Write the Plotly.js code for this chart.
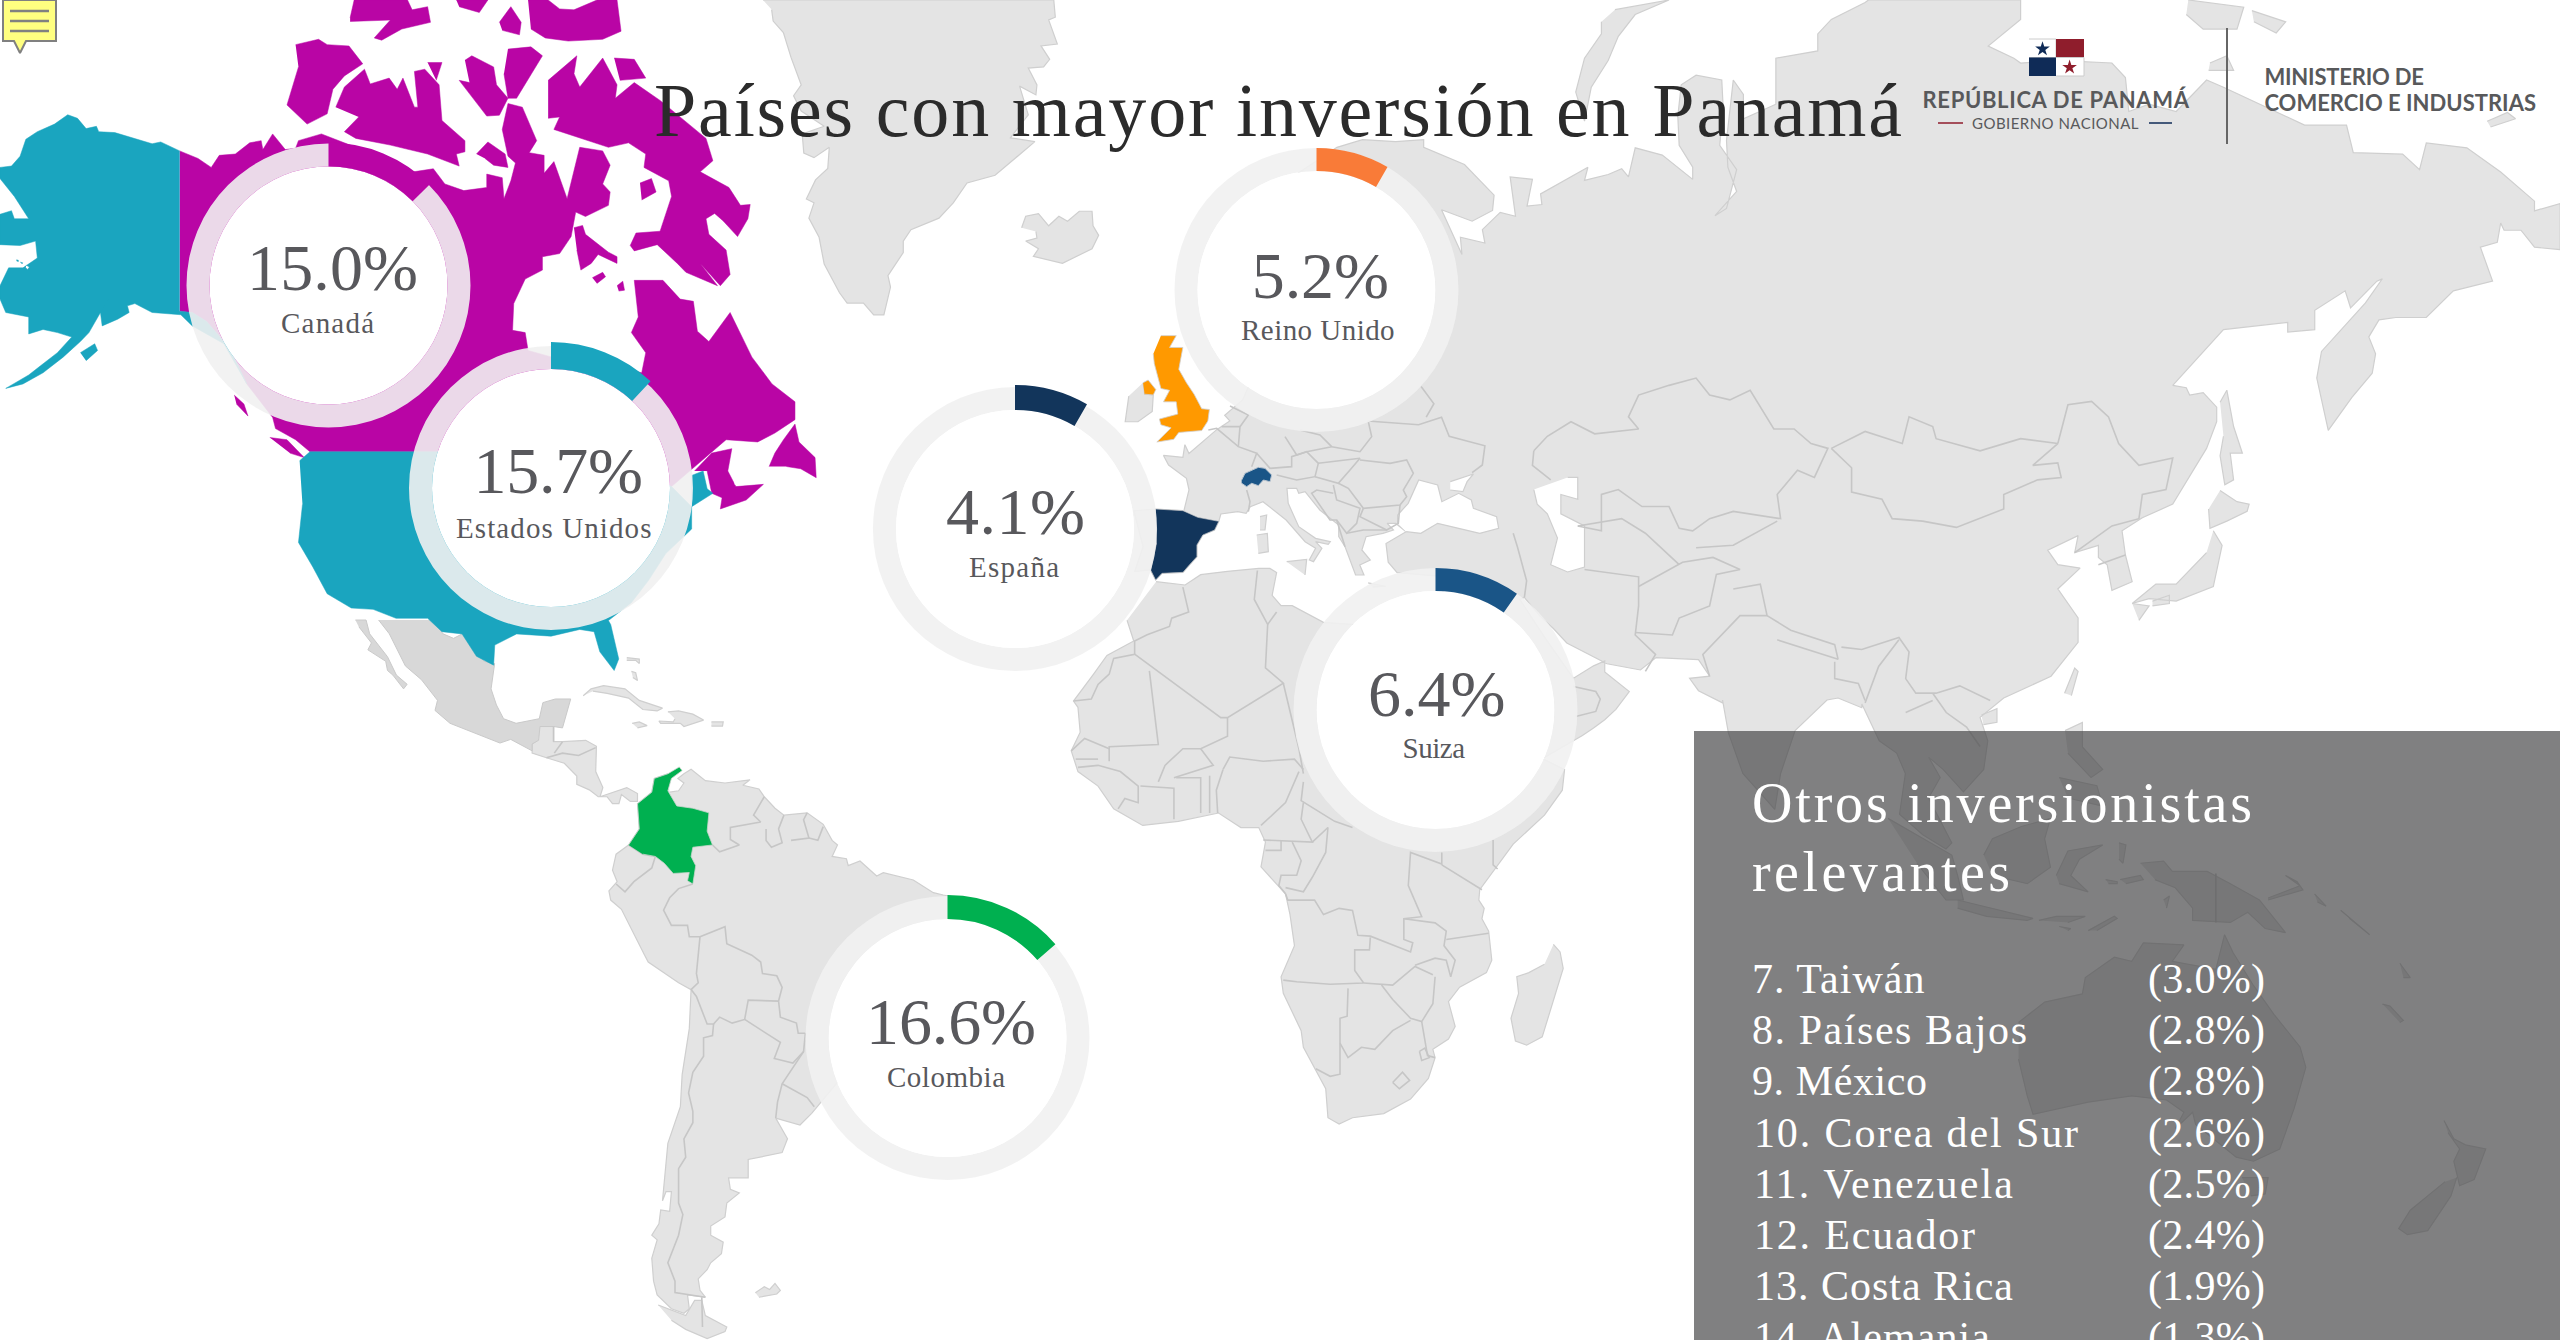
<!DOCTYPE html>
<html><head><meta charset="utf-8">
<script src="https://cdn.plot.ly/plotly-3.0.0.min.js"></script>
<style>html,body{margin:0;padding:0;background:#fff;overflow:hidden}#g{width:2560px;height:1340px}</style>
</head><body><div id="g"></div><script>
// ---------- chart values ----------
var countries   = ['Canadá','Estados Unidos','Reino Unido','España','Suiza','Colombia'];
var percents    = [15.0,15.7,5.2,4.1,6.4,16.6];
var arcDegrees  = [45,43,30,30,35,49];
var ringColors  = ['#b905a5','#1aa5bf','#f97b38','#12355b','#1a5587','#00b050'];
var otherNames  = ['7. Taiwán','8. Países Bajos','9. México','10. Corea del Sur','11. Venezuela','12. Ecuador','13. Costa Rica','14. Alemania'];
var otherValues = [3.0,2.8,2.8,2.6,2.5,2.4,1.9,1.3];
var titleText   = 'Países con mayor inversión en Panamá';
var panelTitle  = ['Otros inversionistas','relevantes'];

// ---------- traced map outlines: each group is read in one crop of the picture ----------
var NA=[0,0,1.7422,2.24],AS=[1650,700,1.723,2.45],EU=[740,0,1.96,2.613],AF=[1040,500,2.24,2.412],
    RU=[1500,0,1.479,2.063],SA=[300,620,2.8,2.178],EC=[1130,320,3,3],ES=[840,360,2.376,3],CO=[780,860,3,3];
function T(z,s){return s.trim().split(/\s+/).map(function(p){var a=p.split(',');return [z[0]+a[0]/z[2],z[1]+a[1]/z[3]];});}
var landParts=[
 [[EU,'870,1335 880,1280 875,1250 840,1215 830,1190 868,1195 872,1162 880,1185 935,1122 960,1100 950,1085 985,1045 1000,1000 1000,800 1040,500 1170,385 1220,365 1285,370 1340,365 1340,385 1420,430 1478,510 1475,550 1435,578 1375,548 1415,665 1412,620 1460,635 1455,600 1490,555 1520,565'],
  [RU,'15,365 48,370 40,425 62,422 60,400 130,345 125,372 160,360 180,348 190,365 200,305 240,320 285,370 285,345 265,300 263,240 268,175 290,155 328,165 330,220 325,300 350,350 335,430 318,445 350,395 337,345 335,290 345,165 360,195 360,245 408,215 408,120 470,105 470,70 490,40 540,5 545,0 770,0 770,40 722,95 760,120 770,130 830,125 905,130 925,160 930,230 960,215 1000,230 1045,165 1070,180 1190,258 1252,258 1262,315 1335,318 1360,350 1370,295 1430,305 1480,355 1530,415 1530,435 1568,420 1568,515 1530,510 1510,475 1485,475 1480,460 1475,500 1450,510 1468,580 1410,600 1370,655 1325,655 1300,660 1285,695 1295,730 1290,770 1260,820 1225,888 1208,780 1215,725 1280,625 1305,575 1297,580 1258,635 1250,600 1205,640 1205,680 1165,685 1165,665 1070,680 995,795 1015,800 1020,815 1040,810 1060,840 1060,870 1045,925 995,1040 950,1068 920,1095 925,1145 935,1200 905,1218 898,1165 885,1150 885,1125 850,1140 855,1105 810,1135 825,1165 858,1172 825,1215 855,1275 855,1325 815,1395 745,1440 710,1480'],
  [AS,'582,100 575,170 540,225 505,170 480,140 500,190 480,240 520,350 510,365 470,330 430,280 440,180 425,130 395,100 365,10'],
  [RU,'535,1460 500,1440'],
  [AS,'305,0 250,75 225,180 215,268 160,180 135,80 125,0'],
  [AF,'1530,490 1475,460 1455,430 1500,425 1475,385 1380,380 1345,410 1270,395 1215,365 1180,345 1150,310 1120,280 1085,235 1075,240 1130,330 1195,430 1240,400 1265,388 1265,415 1320,462 1290,505 1265,530 1240,550 1215,568 1100,640 1010,620 920,440 860,310 900,250 905,185 800,175 780,150 775,105'],
  [ES,'1345,515 1320,490 1300,490 1315,510 1290,520 1250,530 1240,570 1260,600 1235,615 1245,645 1225,645 1200,560 1185,530 1185,495 1140,450 1105,395 1090,400 1085,385 1062,385 1065,430 1090,500 1130,535 1165,545 1160,553 1130,545 1145,565 1125,605 1115,600 1130,565 1105,545 1060,480 1005,425 975,440 965,460 945,455 905,462 900,484 890,510 862,525 848,555 848,590 830,615 815,637 765,640 750,660 738,630 700,635 720,560 698,452 750,447 815,452']],
 [[SA,'1035,375 1060,372 1075,355 1058,345 1075,335 1095,325 1135,350 1190,355 1260,348 1240,360 1285,368 1300,385 1330,410 1355,425 1420,420 1465,445 1490,480 1505,490 1490,515 1530,520 1535,535 1568,525'],
  [CO,'290,48 310,38 400,60 460,98 490,105 525,112 545,200 500,400 350,500 170,670 120,730 95,760 60,795'],
  [SA,'1355,1090 1332,1085 1365,1130 1350,1160 1255,1175 1255,1215 1200,1215 1205,1240 1230,1248 1195,1270 1190,1300 1150,1320 1150,1340 1185,1355 1180,1380 1150,1400 1140,1415 1115,1435 1120,1460 1135,1475 1085,1470 1090,1500 1075,1510 1040,1500 1000,1470 990,1440 985,1390 1000,1350 985,1340 1005,1315 1010,1285 1035,1288 1040,1245 1025,1245 1015,1265 1025,1190 1030,1140 1065,1060 1070,990 1090,890 1095,805 1060,790 975,745 965,730 900,630 870,610 865,590 888,570 875,545 885,510 920,490 950,455 945,400 985,375 992,345 1030,335']],
 [[SA,'1003,1492 1060,1510 1080,1515 1105,1482 1125,1482 1135,1515 1195,1540 1190,1550 1140,1565 1080,1545 1040,1525']],
 [[SA,'1275,1465 1300,1452 1315,1458 1330,1445 1345,1460 1335,1468 1285,1475']],
 [[SA,'668,232 710,232 710,265 735,265 800,262 830,275 828,330 848,365 840,385 880,375 915,365 945,378 945,395 925,395 900,380 893,400 875,400 860,385 835,385 810,370 775,358 775,340 740,312 690,300 650,290 650,270 668,260']],
 [[SA,'793,165 815,150 850,143 910,150 950,175 1015,192 1000,198 960,195 920,170 860,160 820,155']],
 [[SA,'1030,200 1060,198 1100,205 1130,218 1075,232 1065,225 1010,225 1005,220 1045,222 1050,215']],
 [[SA,'930,225 950,222 972,230 945,235']],[[SA,'1152,222 1185,222 1183,231 1152,231']],[[SA,'915,82 950,85 950,95 940,88 915,88']],[[SA,'928,112 940,115 945,132 932,125']],
 [[EU,'45,0 615,0 618,45 605,52 622,115 590,120 607,155 595,175 565,178 582,222 580,248 548,225 565,300 530,360 578,370 520,435 500,458 445,478 418,530 390,570 335,600 320,630 320,660 290,720 295,750 282,823 262,823 242,792 210,792 195,765 165,690 155,620 135,570 145,530 130,520 148,470 172,440 175,385 145,412 125,400 122,350 165,330 120,290 105,250 120,222 100,150 85,85 65,55 62,25']],
 [[EU,'552,595 560,565 585,558 605,590 625,565 642,578 665,552 690,552 692,590 703,615 690,650 632,688 575,670 585,650 560,630 582,622 580,605']],
 [[EU,'790,1000 793,1030 810,1032 808,1075 780,1102 755,1102 762,1035']],
 [[EC,'470,725 530,718 525,765']],[[EC,'380,645 412,640 415,695 385,700']],[[EC,'390,590 410,585 405,630 390,630']],[[AF,'735,200 775,208 745,210']],
 [[AF,'260,197 325,205 360,180 420,172 490,165 515,165 530,175 520,230 540,255 565,255 635,295 700,300 760,300 830,300 900,400 1000,520 1100,610 1175,650 1170,700 1130,760 1060,830 1020,890 985,940 983,965 995,985 990,1010 1005,1040 1012,1110 1000,1140 940,1175 915,1210 930,1270 915,1300 880,1325 885,1345 870,1395 830,1445 770,1480 700,1490 670,1505 645,1490 640,1420 615,1370 590,1320 585,1280 545,1190 540,1150 570,1075 560,1000 550,950 495,885 505,825 490,790 450,790 400,755 310,775 230,785 165,745 130,690 85,655 70,605 90,560 85,500 75,485 120,420 150,375 210,340 195,290']],
 [[AF,'1150,1072 1165,1090 1172,1130 1150,1210 1125,1295 1090,1315 1065,1305 1055,1250 1072,1190 1068,1150 1095,1140 1130,1120']],
 [[AS,'635,790 680,740 745,720 750,680 800,630 830,640 850,595 920,600 900,640 975,660 990,575 1005,620 1040,700 1075,770 1120,850 1130,900 1110,1000 1085,1100 1040,1130 1010,1120 975,1080 940,1040 935,1010 905,1050 920,1010 890,980 830,970 755,985 660,1015 650,970 635,880']],
 [[AS,'1020,1170 1065,1170 1060,1210 1035,1215']],
 [[AS,'1368,1030 1385,1075 1405,1090 1440,1100 1420,1175 1395,1190 1385,1130 1395,1100 1375,1060']],
 [[AS,'1390,1170 1380,1215 1340,1300 1305,1310 1290,1295 1310,1250 1370,1180']],
 [[AS,'845,400 885,395 900,420 960,420 1000,450 1050,490 1095,570 1060,560 1030,520 1000,545 935,540 935,510 905,460 870,440']],
 [[AS,'1065,485 1120,455 1095,430 1115,445 1125,465 1065,490']],[[AS,'1145,475 1165,505 1150,495']],[[AS,'1190,515 1240,575 1205,535']],
 [[AS,'410,290 470,340 520,380 530,430 540,490 510,490 460,400']],[[AS,'530,490 600,515 660,535 650,540 580,530 530,510']],
 [[AS,'575,380 590,340 640,310 690,290 680,340 690,410 650,450 590,430']],[[AS,'700,430 720,370 780,355 740,390 725,430 755,470 705,450']],
 [[AS,'715,75 745,55 745,115 780,170 760,190 720,130']],[[AS,'705,190 770,210 780,260 720,240']],
 [[AS,'785,440 805,445 805,450 790,450']],[[AS,'810,440 845,430 850,440 820,450']],[[AS,'755,565 800,530 805,535 770,565']],[[AS,'670,540 700,530 750,530 720,545']],[[AS,'705,555 725,560 720,565']],
 [[AS,'885,490 895,480 890,510']],[[AS,'808,350 820,355 815,400 808,390']],[[AS,'1262,745 1275,750 1298,785 1292,790']],[[AS,'1292,645 1305,670 1310,680 1298,680']],
 [[RU,'712,1475 735,1462 735,1490 715,1495']],[[RU,'835,1430 850,1378 855,1385 845,1435']],
 [[RU,'1065,830 1075,805 1085,880 1098,935 1080,935 1085,990 1072,1000 1065,940 1070,900']],
 [[RU,'1065,1012 1090,1035 1108,1040 1105,1055 1075,1075 1050,1090 1048,1050']],
 [[RU,'1055,1095 1068,1125 1055,1210 1000,1240 960,1235 935,1245 970,1205 1000,1205 1045,1140']],
 [[RU,'935,1245 960,1250 945,1280']],[[RU,'965,1240 990,1228 990,1245 965,1250']],
 [[RU,'1018,0 1100,15 1090,60 1040,60 1015,30']],[[RU,'1112,22 1162,45 1148,68 1115,45']],[[RU,'1050,130 1075,115 1085,145 1048,145']],[[RU,'1460,250 1490,232 1502,245 1465,262']],
 [[RU,'170,20 250,0 200,30 175,75 160,125 135,180 125,250 112,190 125,120 150,70 150,45']]
];
var seaParts=[
 [[ES,'1325,490 1325,465 1350,430 1375,360 1420,375 1430,425 1470,400 1500,420 1505,445 1560,470 1565,505 1520,520 1470,505 1420,490 1380,520 1345,515']],
 [[ES,'1450,365 1505,342 1490,365 1480,395 1450,390']],
 [[RU,'100,985 115,985 115,1030 90,1020 90,1060 125,1085 125,1170 100,1180 75,1165 85,1110 70,1060 55,1040 50,1010']]
];
var gulfParts=[[[NA,'1275,1040 1305,1070 1320,1062 1295,1086 1280,1085']]];
var mexicoParts=[
 [[SA,'375,0 400,30 430,40 460,28 490,60 515,90 545,95 535,150 550,185 570,215 605,225 670,215 680,180 715,172 758,172 745,205 735,235 710,232 672,232 668,262 650,270 650,285 590,260 560,268 470,240 420,225 378,197 385,175 340,130 295,100 250,30 220,0']],
 [[SA,'155,0 185,0 195,30 245,80 270,120 300,140 290,150 260,120 245,110 240,90 190,65 200,50 185,35 165,15']]
];
var canadaParts=[
 [[NA,'313,338 345,355 368,375 382,348 410,345 435,320 455,315 458,335 475,300 497,335 515,332 520,315 560,300 620,330 720,385 755,378 775,412 808,427 848,420 848,390 875,398 878,445 890,405 898,365 885,350 875,290 885,232 910,240 935,315 922,342 948,348 948,388 965,362 988,445 1010,330 1050,338 1063,370 1050,412 1063,430 1060,460 1020,485 1003,475 995,530 975,568 945,575 945,605 915,625 895,680 893,740 915,745 920,785 962,800 1020,805 1118,835 1125,790 1100,745 1112,710 1105,628 1155,628 1185,670 1208,675 1215,742 1235,765 1272,700 1310,800 1345,860 1385,900 1385,940 1350,970 1320,990 1265,985 1205,1050 1170,1090 1100,1050 1000,1030 900,1012 540,1012 515,985 480,960 475,935 430,860 400,780 360,720 335,700 313,697']],
 [[NA,'1210,1055 1240,1015 1275,1005 1268,1055 1282,1090 1330,1085 1300,1120 1255,1140 1258,1115 1240,1105 1232,1055']],
 [[NA,'1340,1045 1350,1015 1365,985 1385,950 1392,990 1420,1025 1422,1070 1395,1050 1370,1045']],
 [[NA,'515,100 555,88 570,100 608,103 632,143 600,170 580,200 570,255 535,278 500,235 520,150']],
 [[NA,'585,240 600,195 635,155 645,188 678,175 692,200 702,175 722,240 728,240 722,160 740,155 765,190 770,270 810,315 810,340 795,345 800,372 745,345 680,325 620,310 600,295 625,262']],
 [[NA,'745,140 770,140 760,180']],[[NA,'810,135 822,125 860,150 865,190 885,220 870,258 848,260 800,180 818,185']],
 [[NA,'885,110 925,105 945,125 900,220 885,220 878,165']],
 [[NA,'610,40 617,0 710,0 718,22 745,15 750,50 700,65 665,90 652,85 680,45 610,48']],
 [[NA,'795,0 850,0 835,28 800,15']],[[NA,'870,50 890,15 908,50 905,78 875,68']],
 [[NA,'920,0 955,0 975,20 1000,22 1040,0 1075,0 1082,70 1050,88 990,92 950,85 925,65']],
 [[NA,'955,180 1005,125 1000,165 1010,195 1050,130 1075,190 1072,220 1105,185 1150,225 1230,310 1242,360 1220,385 1270,420 1290,460 1307,458 1303,490 1285,530 1260,495 1245,478 1230,490 1235,525 1265,560 1272,615 1255,640 1220,590 1250,640 1195,610 1180,590 1145,548 1105,562 1098,550 1108,522 1150,518 1170,440 1165,405 1122,375 1125,345 1095,320 1060,330 965,290 975,262 955,265']],
 [[NA,'1115,410 1135,400 1143,430 1118,448']],[[NA,'1070,130 1105,133 1125,175 1080,180']],
 [[NA,'1000,510 1015,505 1020,525 1060,565 1075,575 1075,590 1042,570 1030,590 1012,605 1005,560']],
 [[NA,'1032,622 1050,610 1055,620 1040,635']],[[NA,'1075,640 1085,630 1088,650 1078,652']],
 [[NA,'830,345 850,318 880,345 885,375 860,370 845,355']],
 [[NA,'408,885 425,905 432,932 412,905']],[[NA,'470,980 500,985 530,1025 505,1015']]
];
var usaParts=[
 [[NA,'313,338 280,318 265,322 235,310 200,297 172,295 168,283 150,288 135,265 118,257 95,278 65,295 45,312 35,350 20,372 0,375 0,400 25,440 50,490 25,490 20,472 0,480 0,548 35,550 62,540 65,578 40,600 15,600 0,640 0,670 10,700 50,710 50,748 75,738 100,745 125,755 100,790 70,820 50,840 10,870 40,860 75,835 110,800 140,765 155,745 175,700 190,668 175,700 178,730 205,715 225,700 222,685 235,680 265,700 315,705 335,730 390,770 430,860 400,780 360,720 335,700 313,697']],
 [[NA,'140,790 165,770 170,785 150,808']],
 [[NA,'522,1032 540,1012 900,1012 1000,1030 1100,1050 1170,1090 1205,1135 1205,1185 1160,1240 1130,1300 1100,1350 1060,1390 1064,1399 1078,1476 1070,1502 1045,1460 1035,1415 1010,1410 960,1425 900,1420 862,1445 860,1490 830,1470 805,1420 770,1415 745,1385 690,1385 650,1365 612,1362 570,1330 545,1270 520,1215 527,1130']],
 [[NA,'1205,1065 1225,1055 1232,1095 1242,1105 1205,1135']],
 [[[0,0,1.6327,1.6327],'27,424 30,425 30,427 27,426']],[[[0,0,1.6327,1.6327],'33,428 37,429 36,431']],[[[0,0,1.6327,1.6327],'43,433 48,436 45,440 42,437']]
];
var colombiaParts=[[[SA,'920,490 950,455 945,400 985,375 992,345 1030,335 1062,320 1070,328 1040,345 1030,372 1055,405 1100,410 1145,420 1140,460 1155,490 1100,495 1095,515 1108,535 1100,575 1085,568 1090,550 1045,552 1020,530 995,515 960,510']]];
var ukParts=[
 [[EU,'825,877 855,877 842,908 868,908 860,965 875,1000 890,1030 905,1068 920,1070 917,1100 905,1125 860,1130 850,1148 817,1155 845,1118 825,1110 822,1095 858,1082 855,1050 830,1050 842,1020 825,1015 820,990 812,950 810,925']],
 [[EU,'790,1000 800,993 815,1018 810,1032 793,1030']]
];
var spainParts=[[[ES,'750,447 815,452 850,472 900,484 890,510 862,525 848,555 848,590 830,615 815,637 765,640 750,660 738,630 752,550']]];
var swissParts=[[[EC,'335,480 345,460 385,442 405,445 425,465 420,485 400,480 385,497 365,490 350,500 335,490']]];
var borderParts=[
 [SA,'920,490 960,510 995,515 985,540 935,570 910,592 885,575'],
 [SA,'1100,575 1060,585 1035,605 1018,632 1040,665 1085,665 1090,690 1120,690 1110,770 1115,790 1095,805'],
 [SA,'1120,690 1190,668 1195,705 1265,730 1290,745 1295,770 1335,775 1350,800 1340,830 1345,865 1390,878 1395,900 1415,900'],
 [SA,'1340,830 1255,828 1245,870 1210,878 1175,865 1158,880 1140,880 1110,820 1095,805'],
 [SA,'1158,880 1155,905 1130,910 1130,950 1100,985 1088,1030 1100,1070 1100,1095 1075,1130 1080,1170 1060,1195 1060,1270 1072,1295 1060,1340 1030,1400 1050,1440 1050,1465 1135,1475'],
 [SA,'1245,870 1345,920 1328,955 1380,965 1410,940 1415,900'],[SA,'1410,940 1350,1010 1337,1050 1332,1085'],[SA,'1350,1010 1420,1040 1440,1060'],
 [SA,'1155,490 1175,505 1230,490 1205,478 1205,452 1290,440 1270,425 1300,385'],[SA,'1305,455 1305,480 1320,495 1350,485 1340,455 1355,425'],[SA,'1375,480 1425,475 1410,435 1420,420'],[SA,'1425,475 1450,480 1465,450'],
 [SA,'1125,1475 1127,1540'],[SA,'710,232 710,265'],[SA,'690,300 735,290 780,295 828,278'],[SA,'735,265 712,290'],
 [AF,'320,210 333,270 295,285 290,305 240,325 212,340 212,372 165,382 155,420 130,445 115,480 75,485'],
 [AF,'212,372 405,525 420,525 545,442 505,405 510,300 480,240 487,170'],[AF,'510,300 530,270'],[AF,'245,412 265,590 155,595 155,630'],
 [AF,'420,525 420,570 360,600 320,600 280,640 265,680'],[AF,'360,600 388,640 300,670'],[AF,'70,605 100,575 155,600'],[AF,'80,625 130,625'],
 [AF,'85,645 130,640 180,655 220,690 220,730 190,720 175,745'],[AF,'225,690 300,695 300,770'],[AF,'305,670 360,670 360,755'],[AF,'380,665 380,755'],[AF,'410,650 395,700 398,755'],
 [AF,'410,650 425,620 500,630 570,625 590,650'],[AF,'580,655 550,730 495,785'],[AF,'545,442 580,600 590,660'],[AF,'590,680 585,725 660,775 700,790'],[AF,'500,820 610,825 585,770 590,730'],
 [AF,'505,845 540,845 540,820'],[AF,'565,825 585,870 575,905 540,905 535,930 550,950'],
 [AF,'550,950 555,965 615,965 635,1000 670,985 700,990 712,1050 740,1052 830,1090 835,1068 815,1060 815,1010 855,1005 825,930 830,850 900,878 900,850'],[AF,'610,825 645,790 640,850 610,910 590,945 550,935'],
 [AF,'740,1055 738,1085 705,1085 705,1135 725,1165 650,1168 575,1162 545,1158'],[AF,'725,1165 790,1170 840,1125 880,1145'],[AF,'815,1010 885,1020 910,1040 905,1075 930,1110 920,1150 910,1110 885,1105 840,1122'],
 [AF,'910,1060 1005,1045'],[AF,'900,880 990,940'],[AF,'885,1150 880,1215 855,1258 830,1250 790,1205 765,1170'],
 [AF,'690,1178 688,1245 672,1250 672,1385 650,1390 618,1372'],[AF,'672,1310 690,1345 720,1320 750,1325 790,1280 830,1255'],[AF,'855,1258 868,1340 885,1345'],
 [AF,'790,1405 812,1380 828,1400 805,1420 790,1405'],[AF,'850,1330 862,1322 872,1345 855,1352 850,1330'],[AF,'1015,820 1015,880 1025,890'],[AF,'1195,450 1245,462 1255,480 1245,510 1200,522'],
 [AF,'1060,80 1070,115 1090,195 1085,235'],
 [RU,'125,1175 205,1190 205,1250 200,1310 230,1350 215,1385'],[RU,'205,1210 270,1160 315,1150 355,1175 320,1185 310,1250 265,1275 255,1310 200,1305'],
 [RU,'345,1215 385,1205 395,1270 355,1270 300,1350 310,1395'],
 [RU,'50,930 70,900 105,870 140,895 205,885 190,860 205,815 250,795 290,780 310,815 340,825 370,805 405,885 435,885 460,915 485,925 465,985 440,970 410,1020 415,1070 345,1055 310,1070 285,1095 265,1090 250,1045 210,1045 175,1010 150,1020 150,1095 115,1085'],
 [RU,'50,930 48,960 75,990'],
 [RU,'490,925 540,890 595,915 605,860 640,880 645,905 710,930 770,905 825,915 788,960 825,955 830,985 795,990 745,1020 745,1050 675,1088 625,1075 580,1070 565,1030 520,1015 520,965 490,925'],
 [RU,'825,915 840,835 875,828 900,860 915,915 945,960 995,945 985,1010 950,1020 945,1070 905,1085 850,1140'],[RU,'885,1165 925,1145'],
 [RU,'395,1270 430,1300 495,1330 500,1360 410,1320'],[RU,'505,1335 535,1340 590,1315 605,1345 600,1400 615,1430 645,1430 680,1415 725,1445'],[RU,'590,1320 560,1375 540,1450'],
 [RU,'115,1085 180,1070 215,1100 265,1165'],[RU,'290,1130 345,1125 410,1075'],[RU,'495,1365 495,1400 530,1410 540,1445'],[RU,'640,1430 660,1470 690,1500 710,1540'],[RU,'600,1470 640,1445'],
 [EC,'235,330 260,325 325,380 380,400 365,440'],[EC,'350,510 360,545 355,575'],[EC,'275,320 330,320 325,380'],[EC,'300,258 355,285 330,320'],
 [EC,'465,350 500,405 530,395 605,380 570,345 510,330'],[EC,'605,380 690,395 725,350 715,305'],[EC,'380,400 420,445 485,440 485,410 530,395 565,430 555,470 500,480 440,465'],
 [EC,'565,430 690,415 660,450 625,490 555,470'],[EC,'690,420 780,430 830,420 850,460 820,510 830,530 810,555 700,565 655,505 625,490'],[EC,'700,565 690,590 770,630 805,610 810,555'],
 [EC,'610,495 620,540 690,565 680,610 650,640 620,600 600,600 545,520 560,510 610,520'],[EC,'650,640 700,630 770,630'],[EC,'620,600 645,680'],
 [EU,'1230,1100 1330,1110 1375,1090 1390,1140 1460,1165 1455,1215 1435,1235'],[EU,'1335,1010 1360,1055 1345,1090'],
 [AS,'975,425 975,545']
];

function build(parts){var x=[],y=[];parts.forEach(function(p){p.forEach(function(seg){T(seg[0],seg[1]).forEach(function(q){x.push(q[0]);y.push(q[1]);});});x.push(null);y.push(null);});return {x:x,y:y};}
function area(parts,fill,line,w){var b=build(parts);return {type:'scatter',mode:'lines',x:b.x,y:b.y,fill:'toself',fillcolor:fill,line:{color:line,width:w},hoverinfo:'skip',showlegend:false};}
function lines(parts,color,w){var b=build(parts.map(function(s){return [s];}));return {type:'scatter',mode:'lines',x:b.x,y:b.y,line:{color:color,width:w},hoverinfo:'skip',showlegend:false};}
function box(pts,fill,line,w){var x=[],y=[];pts.forEach(function(p){x.push(p[0]);y.push(p[1]);});return {type:'scatter',mode:'lines',x:x,y:y,fill:'toself',fillcolor:fill,line:{color:line||fill,width:w||0},hoverinfo:'skip',showlegend:false};}

var traces=[
 area(landParts,'#e4e4e4','#cfcfcf',1.2),
 area(seaParts,'#ffffff','#cfcfcf',1.2),
 area(mexicoParts,'#d8d8d8','#cacaca',1),
 lines(borderParts,'#c6c6c6',1.6),
 area(canadaParts,ringColors[0],ringColors[0],0.5),
 area(gulfParts,'#ffffff','#ffffff',0.5),
 area(usaParts,ringColors[1],ringColors[1],0.5),
 area(colombiaParts,ringColors[5],'#c9d6cd',0.8),
 area(ukParts,'#ff9900','#cfcfcf',0.8),
 area(spainParts,ringColors[3],'#cfcfcf',0.6),
 area(swissParts,ringColors[4],'#b8c4d0',1)
];
// note icon and flag
traces.push(box([[3,0],[56,0],[56,41],[26,41],[20,53],[14,41],[3,41],[3,0]],'#ffff80','#808080',2));
traces.push(lines([[[0,0,1,1],'10,11 49,11'],[[0,0,1,1],'10,21 49,21'],[[0,0,1,1],'10,31 49,31']],'#808080',2.5));
traces.push(box([[2029,39],[2056,39],[2056,57.5],[2029,57.5]],'#ffffff','#cccccc',1));
traces.push(box([[2056,39],[2084,39],[2084,57.5],[2056,57.5]],'#8f1d2c'));
traces.push(box([[2029,57.5],[2056,57.5],[2056,76],[2029,76]],'#0f2b57'));
traces.push(box([[2056,57.5],[2084,57.5],[2084,76],[2056,76]],'#ffffff','#cccccc',1));
traces.push({type:'scatter',mode:'markers',x:[2042.5,2069.6],y:[49,67.3],marker:{symbol:'star',size:11,color:['#0f2b57','#8f1d2c']},hoverinfo:'skip',showlegend:false});
traces.push(lines([[[0,0,1,1],'1938,123 1963,123']],'#8f1d2c',1.5));
traces.push(lines([[[0,0,1,1],'2149,123 2172,123']],'#0f2b57',1.5));

// rings
var ringCx=[328.5,551,1316.5,1015,1435.5,947.5], ringCy=[285.5,488,290,529,710,1038];
var ringArc=[143,146,142,144,142,143];
var R_OUT=142,R_IN=119;
function dom(cx,cy,r){return {x:[(cx-r)/2560,(cx+r)/2560],y:[1-(cy+r)/1340,1-(cy-r)/1340]};}
function pie(vals,cols,cx,cy,r,hole){return {type:'pie',values:vals,marker:{colors:cols,line:{width:0}},domain:dom(cx,cy,r),hole:hole,sort:false,direction:'clockwise',rotation:0,textinfo:'none',hoverinfo:'skip',showlegend:false};}
countries.forEach(function(c,i){
 traces.push(pie([1],['rgba(241,241,241,0.9)'],ringCx[i],ringCy[i],R_OUT,R_IN/R_OUT));
 traces.push(pie([1],['#ffffff'],ringCx[i],ringCy[i],R_IN,0));
 traces.push(pie([arcDegrees[i],360-arcDegrees[i]],[ringColors[i],'rgba(0,0,0,0)'],ringCx[i],ringCy[i],ringArc[i],R_IN/ringArc[i]));
});

// text placement
var SERIF='"Liberation Serif","Times New Roman",serif', SANS='Lato,"Open Sans",sans-serif';
var txt=[],ann=[];
function put(s,l,r,b,size,col,font,w){txt.push({s:s,l:l,r:r,b:b});ann.push({xref:'paper',yref:'paper',x:l/2560,y:1-b/1340,xanchor:'left',yanchor:'bottom',showarrow:false,text:s,font:{family:font||SERIF,size:size,color:col,weight:w||400}});}
put(titleText,654,1902,136,76,'#2b2b2b');
var pctL=[247,473.5,1251.7,946,1368,866],pctR=[418,643,1389,1085,1505.6,1036],pctB=[290,493,298,534,715.6,1044];
var labL=[281,456,1241,969,1402.5,887],labR=[374,651.5,1394.6,1059,1465,1005],labB=[333,538,340,577,758,1087];
countries.forEach(function(c,i){
 put(percents[i].toFixed(1)+'%',pctL[i],pctR[i],pctB[i],66,'#58585c');
 put(c,labL[i],labR[i],labB[i],29,'#58585c');
});
put(panelTitle[0],1752,2252,822,56,'#ffffff');
put(panelTitle[1],1752,2010,891,56,'#ffffff');
var rowR=[1924.5,2027,1927,2078,2013,1975,2013,1990];
otherNames.forEach(function(n,i){
 var b=993+51.2*i;
 put(n,i<3?1752:1754,rowR[i],b,42,'#ffffff');
 put('('+otherValues[i].toFixed(1)+'%)',2148,2265,b,42,'#ffffff');
});
put('REPÚBLICA DE PANAMÁ',1922.5,2189,108,22,'#58595b',SANS,700);
put('GOBIERNO NACIONAL',1972,2138.5,129,15,'#58595b',SANS,400);
put('MINISTERIO DE',2264.4,2424,85,22,'#58595b',SANS,700);
put('COMERCIO E INDUSTRIAS',2264.4,2536,111,22,'#58595b',SANS,700);

var layout={width:2560,height:1340,margin:{l:0,r:0,t:0,b:0,pad:0},paper_bgcolor:'#ffffff',plot_bgcolor:'rgba(0,0,0,0)',showlegend:false,hovermode:false,
 xaxis:{range:[0,2560],visible:false,fixedrange:true},yaxis:{range:[1340,0],visible:false,fixedrange:true},
 annotations:ann,
 shapes:[
  {type:'rect',layer:'above',xref:'x',yref:'y',x0:1694,x1:2560,y0:731,y1:1340,fillcolor:'rgba(68,68,70,0.68)',line:{width:0}},
  {type:'line',layer:'above',xref:'x',yref:'y',x0:2227,x1:2227,y0:28,y1:144,line:{color:'#666666',width:2}}
 ]};
Plotly.newPlot('g',traces,layout,{staticPlot:true}).then(function(){
 document.querySelectorAll('.annotation-text').forEach(function(el,i){
  var t=txt[i],m=el.getScreenCTM();
  el.style.textAnchor='start';el.setAttribute('text-anchor','start');
  el.setAttribute('x',(t.l-m.e)/m.a);el.setAttribute('y',(t.b-m.f)/m.d);
  el.setAttribute('textLength',t.r-t.l);el.setAttribute('lengthAdjust','spacing');
 });
});
</script></body></html>
